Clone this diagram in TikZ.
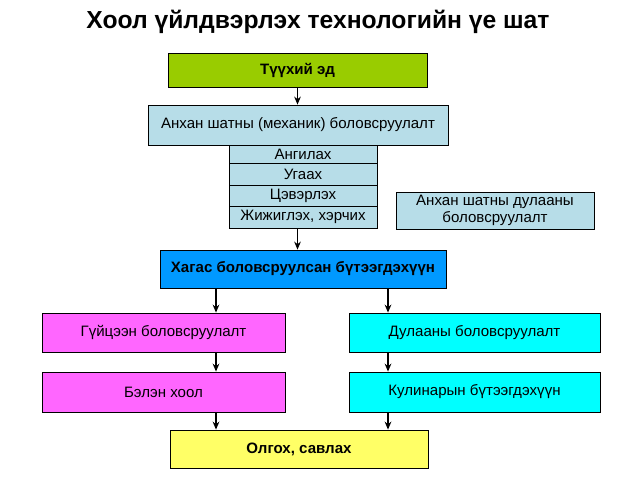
\documentclass[tikz,border=0pt]{standalone}
\usepackage{fontspec}
\setmainfont{Liberation Sans}
\usetikzlibrary{arrows.meta}
\definecolor{lgreen}{HTML}{99CC00}
\definecolor{lblue}{HTML}{B7DDE8}
\definecolor{mblue}{HTML}{0099FF}
\definecolor{mag}{HTML}{FF66FF}
\definecolor{cy}{HTML}{00FFFF}
\definecolor{yel}{HTML}{FFFF66}
\begin{document}
\begin{tikzpicture}[x=0.75pt,y=-0.75pt,
  bx/.style={draw=black,line width=0.6pt,minimum width=#1*0.75pt,inner sep=0pt,font=\fontsize{11.3}{13}\selectfont,align=center},
  bf/.style={font=\bfseries\fontsize{11.3}{13}\selectfont},
  arr/.style={-{Stealth[length=6pt,width=5pt]},line width=1.3pt}]
\useasboundingbox (0,0) rectangle (638,479);
\node[font=\bfseries\fontsize{18.5}{20}\selectfont] (t) at (318,22) {Хоол үйлдвэрлэх технологийн үе шат};
\node[bx=259,minimum height=25.5pt,fill=lgreen,bf] (a) at (297.5,70) {Түүхий эд};
\node[bx=300,minimum height=30pt,fill=lblue] (b) at (298,125) {Анхан шатны (механик) боловсруулалт};
\node[bx=148,minimum height=13.5pt,fill=lblue] (c1) at (303,154) {Ангилах};
\node[bx=148,minimum height=16.5pt,fill=lblue] (c2) at (303,174) {Угаах};
\node[bx=148,minimum height=15.75pt,fill=lblue] (c3) at (303,195.5) {Цэвэрлэх};
\node[bx=148,minimum height=16.5pt,fill=lblue] (c4) at (303,217) {Жижиглэх, хэрчих};
\node[bx=198,minimum height=27.75pt,fill=lblue] (d) at (495,210.5) {Анхан шатны дулааны\\боловсруулалт};
\node[bx=286,minimum height=28.5pt,fill=mblue,bf] (h) at (303,269) {Хагас боловсруулсан бүтээгдэхүүн};
\node[bx=243,minimum height=29.25pt,fill=mag] (g) at (163.5,332.5) {Гүйцээн боловсруулалт};
\node[bx=251,minimum height=29.25pt,fill=cy] (du) at (474.5,332.5) {Дулааны боловсруулалт};
\node[bx=243,minimum height=30pt,fill=mag] (be) at (163.5,392) {Бэлэн хоол};
\node[bx=251,minimum height=30pt,fill=cy] (ku) at (474.5,392) {Кулинарын бүтээгдэхүүн};
\node[bx=258,minimum height=28.5pt,fill=yel,bf] (o) at (299,449) {Олгох, савлах};
\draw[arr] (a.south) -- (a.south |- b.north);
\draw[arr] (c4.south -| a.south) -- (h.north -| a.south);
\foreach \s/\e in {h/g,g/be,be/o}{\draw[arr] (\s.south -| 216,0) -- (\e.north -| 216,0);}
\foreach \s/\e in {h/du,du/ku,ku/o}{\draw[arr] (\s.south -| 388,0) -- (\e.north -| 388,0);}
\end{tikzpicture}
\end{document}
